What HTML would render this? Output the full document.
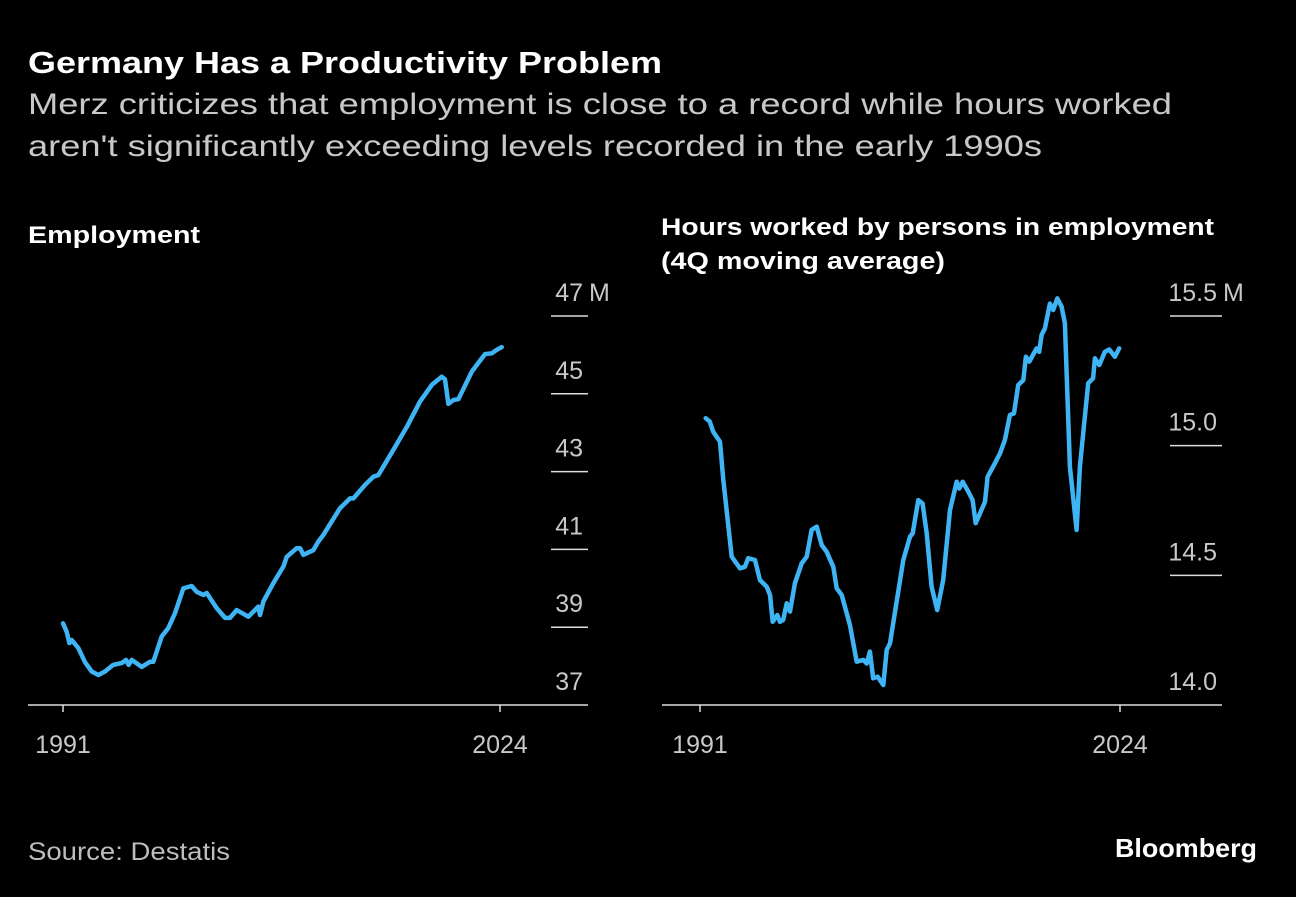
<!DOCTYPE html>
<html><head><meta charset="utf-8"><style>
body{margin:0;background:#000;width:1296px;height:892px;overflow:hidden;font-family:"Liberation Sans",Arial,sans-serif}
svg text{font-family:"Liberation Sans",Arial,sans-serif}
</style></head><body>
<svg width="1296" height="892">
<text x="28" y="73" fill="#fff" font-size="31" font-weight="bold" textLength="634" lengthAdjust="spacingAndGlyphs">Germany Has a Productivity Problem</text>
<text x="28" y="114" fill="#c8c8c8" font-size="30" textLength="1144" lengthAdjust="spacingAndGlyphs">Merz criticizes that employment is close to a record while hours worked</text>
<text x="28" y="156" fill="#c8c8c8" font-size="30" textLength="1014" lengthAdjust="spacingAndGlyphs">aren't significantly exceeding levels recorded in the early 1990s</text>
<text x="28" y="243" fill="#fff" font-size="24" font-weight="bold" textLength="172" lengthAdjust="spacingAndGlyphs">Employment</text>
<text x="661" y="235" fill="#fff" font-size="24" font-weight="bold" textLength="553" lengthAdjust="spacingAndGlyphs">Hours worked by persons in employment</text>
<text x="661" y="269" fill="#fff" font-size="24" font-weight="bold" textLength="284" lengthAdjust="spacingAndGlyphs">(4Q moving average)</text>
<g id="left"></g><g id="right"></g>
<text x="28" y="860" fill="#bdbdbd" font-size="25" textLength="202" lengthAdjust="spacingAndGlyphs">Source: Destatis</text>
<text x="1115" y="857" fill="#fff" font-size="26" font-weight="bold" textLength="142" lengthAdjust="spacingAndGlyphs">Bloomberg</text>
</svg>
<script>
const empYears=[1991.0,1991.28,1991.48,1991.66,1992.16,1992.66,1993.17,1993.67,1994.17,1994.78,1995.43,1995.76,1995.96,1996.19,1996.94,1997.57,1997.82,1998.45,1998.95,1999.46,2000.09,2000.72,2001.10,2001.60,2001.85,2002.61,2003.24,2003.61,2004.12,2005.0,2005.75,2005.88,2006.13,2006.88,2007.64,2007.90,2008.65,2008.90,2009.15,2009.90,2010.28,2010.66,2011.92,2012.68,2012.93,2013.81,2014.44,2014.81,2015.95,2016.96,2017.96,2018.85,2019.60,2019.85,2020.10,2020.48,2020.86,2021.87,2022.87,2023.38,2023.76,2024.13];
const empValues=[39.1,38.88,38.59,38.67,38.46,38.1,37.86,37.77,37.86,38.03,38.08,38.16,38.03,38.16,37.98,38.11,38.11,38.76,38.98,39.36,40.0,40.06,39.91,39.83,39.88,39.49,39.24,39.24,39.44,39.27,39.53,39.31,39.66,40.13,40.56,40.81,41.03,41.03,40.86,40.98,41.2,41.37,42.06,42.31,42.31,42.66,42.87,42.91,43.56,44.15,44.8,45.23,45.44,45.37,44.74,44.84,44.86,45.57,46.02,46.04,46.13,46.2];
const empTicks=[37,39,41,43,45,47];
const empTickLabels=["37","39","41","43","45","47"];
const hrsYears=[1991.45,1991.76,1992.04,1992.57,1992.83,1993.49,1994.14,1994.53,1994.79,1995.32,1995.71,1996.24,1996.50,1996.71,1997.07,1997.28,1997.54,1997.81,1998.07,1998.46,1998.99,1999.38,1999.77,2000.17,2000.56,2000.95,2001.47,2001.74,2002.13,2002.78,2003.31,2003.83,2004.10,2004.35,2004.61,2004.96,2005.40,2005.67,2005.93,2006.97,2007.50,2007.71,2008.15,2008.49,2008.81,2009.20,2009.64,2010.11,2010.64,2011.17,2011.37,2011.64,2012.08,2012.42,2012.66,2013.0,2013.39,2013.60,2014.17,2014.57,2014.96,2015.35,2015.67,2016.0,2016.40,2016.61,2016.87,2017.45,2017.65,2017.84,2018.10,2018.49,2018.75,2019.07,2019.41,2019.67,2020.06,2020.59,2020.85,2021.50,2021.89,2022.03,2022.37,2022.81,2023.15,2023.60,2023.94];
const hrsValues=[15.106,15.093,15.054,15.015,14.868,14.572,14.527,14.533,14.566,14.559,14.482,14.456,14.424,14.321,14.347,14.321,14.328,14.392,14.36,14.469,14.546,14.572,14.675,14.688,14.617,14.591,14.533,14.45,14.424,14.309,14.167,14.174,14.16,14.206,14.103,14.109,14.077,14.212,14.238,14.559,14.649,14.662,14.79,14.777,14.662,14.456,14.366,14.482,14.752,14.861,14.835,14.861,14.823,14.79,14.701,14.739,14.784,14.88,14.932,14.97,15.022,15.118,15.125,15.234,15.253,15.343,15.324,15.375,15.362,15.427,15.452,15.548,15.523,15.568,15.536,15.472,14.919,14.675,14.919,15.241,15.26,15.337,15.311,15.362,15.371,15.343,15.375];
const hrsTicks=[14.0,14.5,15.0,15.5];
const hrsTickLabels=["14.0","14.5","15.0","15.5"];
const xTickYears=[1991,2024];
const NS="http://www.w3.org/2000/svg";
function mk(p,t,a){const e=document.createElementNS(NS,t);for(const k in a)e.setAttribute(k,a[k]);p.appendChild(e);return e;}
function panel(g,o){
  const xs=y=>o.x0+(y-1991)/(2024-1991)*(o.x1-o.x0);
  const ys=v=>o.yb-(v-o.vmin)/(o.vmax-o.vmin)*(o.yb-o.yt);
  o.ticks.forEach((t,i)=>{
    const y=ys(t);
    if(i>0){const l=mk(g,'line',{x1:o.tl,x2:o.tr,y1:y,y2:y,stroke:'#ddd','stroke-width':1.5});
    
    }
    const tx=mk(g,'text',{x:o.tr-5,y:y-15,fill:'#c8c8c8','font-size':25,'text-anchor':'end'});
    tx.textContent=o.labels[i];
    
    
    if(i===o.ticks.length-1){const m=mk(g,'text',{x:o.tr+1,y:y-15,fill:'#c8c8c8','font-size':25});m.textContent='M';
    
    }
  });
  const b=mk(g,'line',{x1:o.bl,x2:o.tr,y1:o.yb,y2:o.yb,stroke:'#ddd','stroke-width':1.5});
  
  
  xTickYears.forEach(yr=>{
    const x=xs(yr);
    const t=mk(g,'line',{x1:x,x2:x,y1:o.yb,y2:o.yb+7,stroke:'#ddd','stroke-width':1.5});
    
    
    const l=mk(g,'text',{x:x,y:o.yb+48,fill:'#c8c8c8','font-size':25,'text-anchor':'middle'});
    l.textContent=yr;
    
    
  });
  const d=o.years.map((y,i)=>(i?'L':'M')+xs(y).toFixed(1)+','+ys(o.vals[i]).toFixed(1)).join('');
  const p=mk(g,'path',{d:d,fill:'none',stroke:'#3fb4f5','stroke-width':4.5,'stroke-linejoin':'round','stroke-linecap':'round'});
  
  
}
panel(document.getElementById('left'),{x0:63,x1:500,yb:705,yt:316,vmin:37,vmax:47,tl:551,tr:588,bl:28,ticks:empTicks,labels:empTickLabels,years:empYears,vals:empValues,name:'employment-line'});
panel(document.getElementById('right'),{x0:700,x1:1120,yb:705,yt:316,vmin:14,vmax:15.5,tl:1170,tr:1222,bl:662,ticks:hrsTicks,labels:hrsTickLabels,years:hrsYears,vals:hrsValues,name:'hours-worked-line'});
</script>
</body></html>
